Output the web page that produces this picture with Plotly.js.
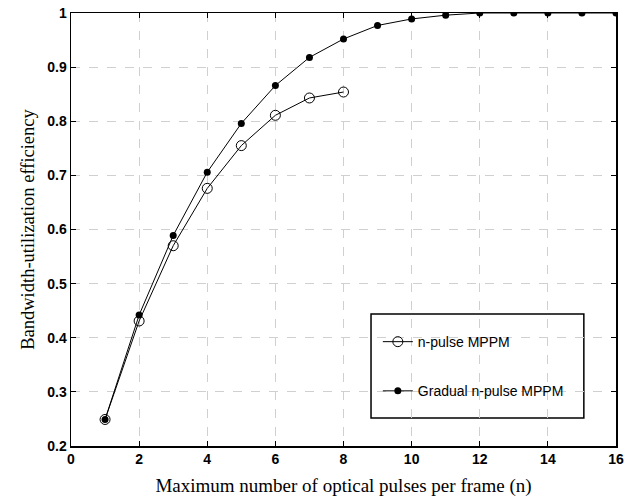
<!DOCTYPE html>
<html>
<head>
<meta charset="utf-8">
<script src="https://cdn.plot.ly/plotly-3.0.1.min.js"></script>
<style>html,body{margin:0;padding:0;background:#fff;}#chart{width:637px;height:497px;}</style>
</head>
<body>
<div id="chart"></div>
<script>
const nPulseX = [1, 2, 3, 4, 5, 6, 7, 8];
const nPulseY = [0.249, 0.431, 0.570, 0.676, 0.755, 0.811, 0.843, 0.854];
const gradualX = [1, 2, 3, 4, 5, 6, 7, 8, 9, 10, 11, 12, 13, 14, 15, 16];
const gradualY = [0.249, 0.442, 0.589, 0.706, 0.796, 0.866, 0.918, 0.952, 0.977, 0.989, 0.996, 1.0, 1.0, 1.0, 1.0, 1.0];
const xTicks = [0, 2, 4, 6, 8, 10, 12, 14, 16];
const yTicks = [0.2, 0.3, 0.4, 0.5, 0.6, 0.7, 0.8, 0.9, 1];
const yTickText = ['0.2', '0.3', '0.4', '0.5', '0.6', '0.7', '0.8', '0.9', '1'];

const traces = [
  {
    x: nPulseX, y: nPulseY, name: 'n-pulse MPPM', mode: 'lines+markers', legendgroup: 'a',
    line: {color: '#000', width: 1},
    marker: {symbol: 'circle-open', size: 10, color: '#000', line: {width: 1, color: '#000'}}
  },
  {
    x: gradualX, y: gradualY, name: 'Gradual n-pulse MPPM', mode: 'lines+markers', legendgroup: 'b',
    line: {color: '#000', width: 1},
    marker: {symbol: 'circle', size: 7, color: '#000'}
  }
];

const axisCommon = {
  showline: true, linecolor: '#000', linewidth: 1.5, mirror: 'ticks',
  ticks: 'inside', ticklen: 5, tickcolor: '#000',
  showgrid: true, gridcolor: '#d0d0d0', griddash: 'dash', gridwidth: 1,
  zeroline: false,
  tickfont: {family: 'Liberation Sans, Arial, sans-serif', size: 14, color: '#000', weight: 'bold'}
};

const layout = {
  width: 637, height: 497,
  margin: {l: 71, r: 21, t: 13, b: 51},
  paper_bgcolor: '#fff', plot_bgcolor: '#fff',
  showlegend: true,
  xaxis: Object.assign({}, axisCommon, {
    range: [0, 16], tickvals: xTicks, ticktext: xTicks.map(String),
    title: {text: 'Maximum number of optical pulses per frame (n)', standoff: 12,
      font: {family: 'Liberation Serif, Times New Roman, serif', size: 19, color: '#000'}}
  }),
  yaxis: Object.assign({}, axisCommon, {
    range: [0.2, 1], tickvals: yTicks, ticktext: yTickText,
    title: {text: 'Bandwidth-utilization efficiency', standoff: 8,
      font: {family: 'Liberation Serif, Times New Roman, serif', size: 18.5, color: '#000'}}
  }),
  legend: {
    x: 0.563, y: 0.277, xanchor: 'left', yanchor: 'top',
    bgcolor: 'rgba(0,0,0,0)', borderwidth: 0,
    tracegroupgap: 28, traceorder: 'grouped',
    font: {family: 'Liberation Sans, Arial, sans-serif', size: 14, color: '#000'}
  },
  shapes: [
    {type: 'rect', xref: 'paper', yref: 'paper', x0: 0.5505, x1: 0.941, y0: 0.0647, y1: 0.305,
     line: {color: '#000', width: 1.5}, fillcolor: '#fff', layer: 'below'}
  ]
};

Plotly.newPlot('chart', traces, layout, {displayModeBar: false, staticPlot: true});
</script>
</body>
</html>
